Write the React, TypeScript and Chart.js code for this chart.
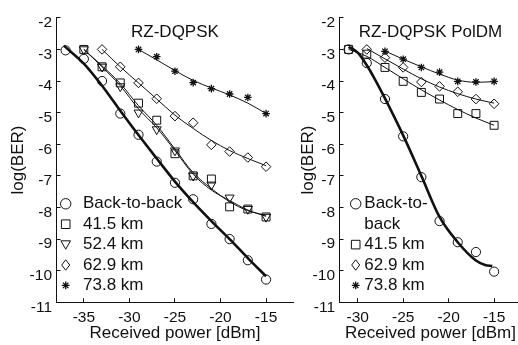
import React, { useEffect, useRef } from 'react';
import { Chart, registerables } from 'chart.js';

Chart.register(...registerables);

const FONT = "Arial, 'Liberation Sans', Helvetica, sans-serif";
const INK = '#111';

// ---------- shared axis ticks ----------
const yTicks = [-11, -10, -9, -8, -7, -6, -5, -4, -3, -2];
const leftXTicks = [-35, -30, -25, -20, -15];
const rightXTicks = [-30, -25, -20, -15];

// ---------- Left panel: RZ-DQPSK (measured points) ----------
const leftTitle = 'RZ-DQPSK';
const leftPowerB2B = [-37, -35, -33, -31, -29, -27, -25, -23, -21, -19, -17, -15];
const leftBerB2B = [-3.03, -3.3, -4.0, -5.03, -5.7, -6.55, -7.22, -7.74, -8.52, -9.0, -9.67, -10.28];
const leftPower41 = [-35, -33, -31, -29, -27, -25, -23, -21, -19, -17, -15];
const leftBer41 = [-3.0, -3.55, -4.06, -4.7, -5.24, -6.3, -7.0, -7.1, -7.98, -8.05, -8.3];
const leftBer52 = [-3.0, -3.55, -4.17, -5.0, -5.53, -6.2, -7.0, -7.28, -7.69, -8.05, -8.3];
const leftPower62 = [-33, -31, -29, -27, -25, -23, -21, -19, -17, -15];
const leftBer62 = [-3.0, -3.55, -4.06, -4.56, -5.11, -5.32, -6.02, -6.23, -6.42, -6.71];
const leftPower73 = [-29, -27, -25, -23, -21, -19, -17, -15];
const leftBer73 = [-3.0, -3.23, -3.69, -4.05, -4.24, -4.41, -4.52, -5.03];

// Left panel fitted curves
const leftFitPowerB2B = [-37.2, -35, -33, -31, -29, -27, -25, -23, -21, -19, -17, -15];
const leftFitB2B = [-2.88, -3.45, -4.15, -4.94, -5.71, -6.45, -7.18, -7.83, -8.43, -9.0, -9.6, -10.18];
const leftFitPower41 = [-35, -33, -31, -29, -27, -25, -23, -21, -19, -17, -15];
const leftFit41 = [-3.0, -3.52, -4.08, -4.78, -5.4, -6.15, -6.9, -7.4, -7.82, -8.1, -8.25];
const leftFit52 = [-3.0, -3.55, -4.15, -4.88, -5.48, -6.2, -6.95, -7.45, -7.78, -8.08, -8.28];
const leftFitPower62 = [-33, -31, -29, -27, -25, -23, -21, -19, -17, -15];
const leftFit62 = [-3.0, -3.55, -4.06, -4.57, -5.08, -5.5, -5.88, -6.2, -6.45, -6.68];
const leftFitPower73 = [-29, -27, -25, -23, -21, -19, -17, -15];
const leftFit73 = [-3.0, -3.33, -3.67, -3.98, -4.22, -4.44, -4.7, -5.03];

// ---------- Right panel: RZ-DQPSK PolDM ----------
const rightTitle = 'RZ-DQPSK PolDM';
const rightPowerB2B = [-31, -29, -27, -25, -23, -21, -19, -17, -15];
const rightBerB2B = [-3.0, -3.43, -4.57, -5.75, -7.04, -8.43, -9.1, -9.41, -10.03];
const rightPower41 = [-31, -29, -27, -25, -23, -21, -19, -17, -15];
const rightBer41 = [-3.0, -3.15, -3.57, -4.01, -4.36, -4.57, -5.03, -5.03, -5.4];
const rightPower62 = [-29, -27, -25, -23, -21, -19, -17, -15];
const rightBer62 = [-3.0, -3.26, -3.57, -4.03, -4.17, -4.34, -4.57, -4.72];
const rightPower73 = [-27, -25, -23, -21, -19, -17, -15];
const rightBer73 = [-3.06, -3.31, -3.57, -3.72, -4.01, -4.03, -4.01];

// Right panel fitted curves
const rightFitPowerB2B = [-31, -30, -29, -28, -27, -25, -23, -21, -19, -17, -16, -15.2];
const rightFitB2B = [-2.92, -3.1, -3.5, -4.0, -4.55, -5.72, -7.0, -8.3, -9.1, -9.68, -9.82, -9.85];
const rightFitPower41 = [-31, -29, -27, -25, -23, -21, -19, -17, -15];
const rightFit41 = [-3.0, -3.22, -3.57, -3.93, -4.28, -4.6, -4.9, -5.17, -5.4];
const rightFitPower62 = [-29, -27, -25, -23, -21, -19, -17, -15];
const rightFit62 = [-2.97, -3.3, -3.62, -3.93, -4.19, -4.4, -4.57, -4.7];
const rightFitPower73 = [-27, -25, -23, -21, -19, -17, -15];
const rightFit73 = [-3.05, -3.31, -3.55, -3.78, -3.97, -4.04, -4.02];

// Legends
const leftLegendLabels = [['Back-to-back'], ['41.5 km'], ['52.4 km'], ['62.9 km'], ['73.8 km']];
const leftLegendMarkers = ['circle', 'rect', 'triangleDown', 'diamond', 'star'];
const rightLegendLabels = [['Back-to-', 'back'], ['41.5 km'], ['62.9 km'], ['73.8 km']];
const rightLegendMarkers = ['circle', 'rect', 'diamond', 'star'];

const zip = (xs: number[], ys: number[]) => xs.map((x, i) => ({ x, y: ys[i] }));

function pointSet(xs: number[], ys: number[], style: string) {
  const base: any = {
    data: zip(xs, ys),
    showLine: false,
    borderColor: INK,
    backgroundColor: 'rgba(0,0,0,0)',
    borderWidth: 1,
    order: 1,
  };
  if (style === 'circle') Object.assign(base, { pointStyle: 'circle', pointRadius: 4.6 });
  if (style === 'rect') Object.assign(base, { pointStyle: 'rect', pointRadius: 5.6 });
  if (style === 'triangleDown') Object.assign(base, { pointStyle: 'triangle', pointRadius: 5.2, pointRotation: 180 });
  if (style === 'diamond') Object.assign(base, { pointStyle: 'rectRot', pointRadius: 4.8 });
  if (style === 'star') Object.assign(base, { pointStyle: 'star', pointRadius: 3.8, borderWidth: 1.3 });
  return base;
}

function fitSet(xs: number[], ys: number[], width: number) {
  return {
    data: zip(xs, ys),
    showLine: true,
    pointRadius: 0,
    borderColor: INK,
    borderWidth: width,
    cubicInterpolationMode: 'monotone',
    fill: false,
    order: 2,
  };
}

function drawMarker(ctx: CanvasRenderingContext2D, style: string, x: number, y: number) {
  ctx.save();
  ctx.strokeStyle = INK;
  ctx.lineWidth = 1;
  ctx.beginPath();
  if (style === 'circle') ctx.arc(x, y, 5.2, 0, Math.PI * 2);
  if (style === 'rect') ctx.rect(x - 4.3, y - 4.3, 8.6, 8.6);
  if (style === 'triangleDown') {
    ctx.moveTo(x - 4.8, y - 3.8);
    ctx.lineTo(x + 4.8, y - 3.8);
    ctx.lineTo(x, y + 4.6);
    ctx.closePath();
  }
  if (style === 'diamond') {
    ctx.moveTo(x, y - 5.2);
    ctx.lineTo(x + 4, y);
    ctx.lineTo(x, y + 5.2);
    ctx.lineTo(x - 4, y);
    ctx.closePath();
  }
  if (style === 'star') {
    ctx.lineWidth = 1.3;
    const r = 3.9;
    for (let k = 0; k < 4; k++) {
      const a = (k * Math.PI) / 4;
      ctx.moveTo(x - r * Math.cos(a), y - r * Math.sin(a));
      ctx.lineTo(x + r * Math.cos(a), y + r * Math.sin(a));
    }
  }
  ctx.stroke();
  ctx.restore();
}

type PanelCfg = {
  title: string;
  xMin: number;
  xMax: number;
  xTicks: number[];
  yAxisWidth: number;
  yTitlePad: number;
  padRight: number;
  datasets: any[];
  legendLabels: string[][];
  legendMarkers: string[];
  legendMarkerDx: number;
  legendTextDx: number;
};

function makeChart(canvas: HTMLCanvasElement, p: PanelCfg) {
  const overlay = {
    id: 'overlay',
    afterDatasetsDraw(chart: any) {
      const { ctx, chartArea } = chart;
      ctx.save();
      ctx.fillStyle = INK;
      ctx.textBaseline = 'middle';
      ctx.textAlign = 'center';
      ctx.font = `17px ${FONT}`;
      ctx.fillText(p.title, (chartArea.left + chartArea.right) / 2, chartArea.top + 15);
      // legend
      ctx.textAlign = 'left';
      const rowH = 20.4;
      let row = 0;
      const y0 = chartArea.top + 186;
      p.legendLabels.forEach((lines, i) => {
        const y = y0 + row * rowH;
        drawMarker(ctx, p.legendMarkers[i], chartArea.left + p.legendMarkerDx, y);
        lines.forEach((t, j) => {
          ctx.fillStyle = INK;
          ctx.fillText(t, chartArea.left + p.legendTextDx, y + j * rowH);
        });
        row += lines.length;
      });
      ctx.restore();
    },
  };

  const axisFont = { family: FONT, size: 15.5 };
  const titleFont = { family: FONT, size: 17 };

  return new Chart(canvas, {
    type: 'scatter',
    data: { datasets: p.datasets },
    options: {
      animation: false,
      responsive: false,
      events: [],
      layout: { padding: { left: 0, top: 11, right: p.padRight, bottom: 0 } },
      plugins: { legend: { display: false }, tooltip: { enabled: false }, title: { display: false } },
      scales: {
        x: {
          type: 'linear',
          min: p.xMin,
          max: p.xMax,
          afterBuildTicks: (s: any) => {
            s.ticks = p.xTicks.map((v) => ({ value: v }));
          },
          afterFit: (s: any) => {
            s.height = 42.7;
          },
          grid: { drawOnChartArea: false, drawTicks: true, tickLength: -4, color: INK, lineWidth: 1 },
          border: { display: true, color: INK, width: 1 },
          ticks: { font: axisFont, color: INK, padding: 10, maxRotation: 0, autoSkip: false, callback: (v: any) => String(v) },
          title: { display: true, text: 'Received power [dBm]', font: titleFont, color: INK, padding: { top: 0, bottom: 1 } },
        },
        y: {
          type: 'linear',
          min: -11,
          max: -2,
          afterBuildTicks: (s: any) => {
            s.ticks = yTicks.map((v) => ({ value: v }));
          },
          afterFit: (s: any) => {
            s.width = p.yAxisWidth;
          },
          grid: { drawOnChartArea: false, drawTicks: true, tickLength: -4, color: INK, lineWidth: 1 },
          border: { display: true, color: INK, width: 1 },
          ticks: { font: axisFont, color: INK, padding: 8.5, labelOffset: 5, autoSkip: false, callback: (v: any) => String(v) },
          title: { display: true, text: 'log(BER)', font: titleFont, color: INK, padding: { top: p.yTitlePad, bottom: 0 } },
        },
      },
    },
    plugins: [overlay],
  } as any);
}

const leftPanel: PanelCfg = {
  title: leftTitle,
  xMin: -38,
  xMax: -12,
  xTicks: leftXTicks,
  yAxisWidth: 56.5,
  yTitlePad: 8,
  padRight: 6.5,
  datasets: [
    pointSet(leftPowerB2B, leftBerB2B, 'circle'),
    pointSet(leftPower41, leftBer41, 'rect'),
    pointSet(leftPower41, leftBer52, 'triangleDown'),
    pointSet(leftPower62, leftBer62, 'diamond'),
    pointSet(leftPower73, leftBer73, 'star'),
    fitSet(leftFitPowerB2B, leftFitB2B, 2.6),
    fitSet(leftFitPower41, leftFit41, 1),
    fitSet(leftFitPower41, leftFit52, 1),
    fitSet(leftFitPower62, leftFit62, 1),
    fitSet(leftFitPower73, leftFit73, 1),
  ],
  legendLabels: leftLegendLabels,
  legendMarkers: leftLegendMarkers,
  legendMarkerDx: 9.2,
  legendTextDx: 26.5,
};

const rightPanel: PanelCfg = {
  title: rightTitle,
  xMin: -32,
  xMax: -12,
  xTicks: rightXTicks,
  yAxisWidth: 53.5,
  yTitlePad: 11.8,
  padRight: 2,
  datasets: [
    pointSet(rightPowerB2B, rightBerB2B, 'circle'),
    pointSet(rightPower41, rightBer41, 'rect'),
    pointSet(rightPower62, rightBer62, 'diamond'),
    pointSet(rightPower73, rightBer73, 'star'),
    fitSet(rightFitPowerB2B, rightFitB2B, 2.6),
    fitSet(rightFitPower41, rightFit41, 1),
    fitSet(rightFitPower62, rightFit62, 1),
    fitSet(rightFitPower73, rightFit73, 1),
  ],
  legendLabels: rightLegendLabels,
  legendMarkers: rightLegendMarkers,
  legendMarkerDx: 16.2,
  legendTextDx: 24.8,
};

export default function App() {
  const leftRef = useRef<HTMLCanvasElement | null>(null);
  const rightRef = useRef<HTMLCanvasElement | null>(null);

  useEffect(() => {
    const a = makeChart(leftRef.current as HTMLCanvasElement, leftPanel);
    const b = makeChart(rightRef.current as HTMLCanvasElement, rightPanel);
    return () => {
      a.destroy();
      b.destroy();
    };
  }, []);

  return (
    <div style={{ position: 'fixed', left: 0, top: 0, width: 518, height: 345, overflow: 'hidden', background: '#fff' }}>
      <canvas ref={leftRef} width={300} height={345} style={{ position: 'absolute', left: 0, top: 0, width: 300, height: 345 }} />
      <canvas ref={rightRef} width={242} height={345} style={{ position: 'absolute', left: 286, top: 0, width: 242, height: 345 }} />
    </div>
  );
}
